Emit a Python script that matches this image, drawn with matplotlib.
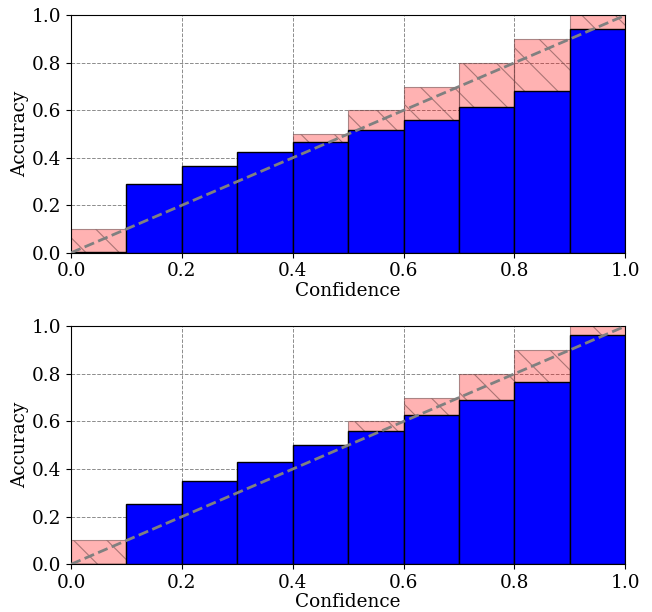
import matplotlib.pyplot as plt
import numpy as np

BIN_EDGES = [0.0, 0.1, 0.2, 0.3, 0.4, 0.5, 0.6, 0.7, 0.8, 0.9]
BIN_TOPS = [0.1, 0.2, 0.3, 0.4, 0.5, 0.6, 0.7, 0.8, 0.9, 1.0]

ACC_TOP = [0.003, 0.29, 0.366, 0.426, 0.468, 0.517, 0.559, 0.615, 0.682, 0.941]
ACC_BOTTOM = [0.0, 0.252, 0.35, 0.429, 0.499, 0.559, 0.626, 0.689, 0.765, 0.963]

plt.rcParams['font.family'] = 'DejaVu Serif'
plt.rcParams['font.size'] = 13.3
plt.rcParams['hatch.linewidth'] = 0.8


def reliability(ax, accs):
    ax.grid(True, linestyle='--', color='gray', linewidth=0.7, alpha=0.9)
    ax.set_axisbelow(True)
    ax.bar(BIN_EDGES, BIN_TOPS, width=0.1, align='edge',
           facecolor=(1, 0, 0, 0.3), edgecolor=(0.45, 0.3, 0.3, 0.6),
           hatch='\\', linewidth=0.8, zorder=2)
    ax.bar(BIN_EDGES, accs, width=0.1, align='edge',
           color='blue', edgecolor='black', linewidth=1, zorder=3)
    ax.plot([0, 1], [0, 1], linestyle='--', color='gray', linewidth=2, zorder=4)
    ax.set_xlim(0, 1)
    ax.set_ylim(0, 1)
    ax.set_xlabel('Confidence', labelpad=1)
    ax.set_ylabel('Accuracy', labelpad=2)


fig = plt.figure(figsize=(6.52, 6.12), dpi=100)
ax1 = fig.add_axes([0.109, 0.587, 0.850, 0.388])
ax2 = fig.add_axes([0.109, 0.078, 0.850, 0.389])
reliability(ax1, ACC_TOP)
reliability(ax2, ACC_BOTTOM)

fig.savefig('out.png', dpi=100)
